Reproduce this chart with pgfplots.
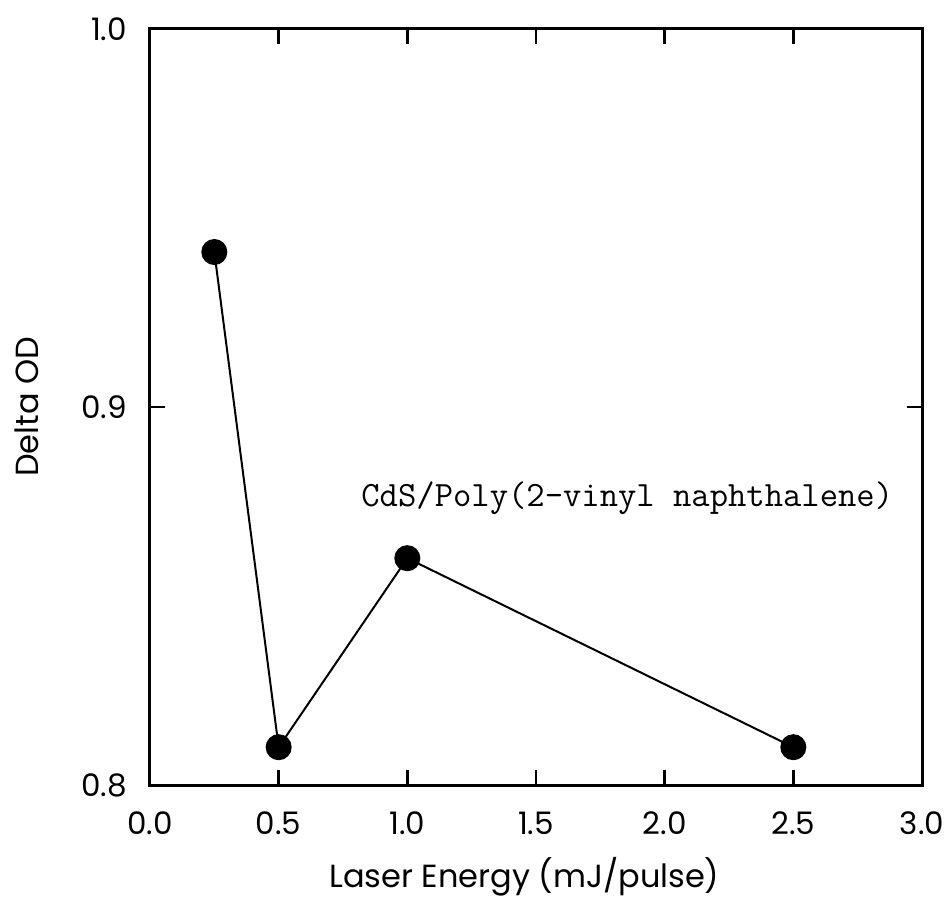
\documentclass[border=0pt]{standalone}
\usepackage{pgfplots}
\pgfplotsset{compat=1.18}
\usepackage{fontspec}
\setmainfont{Poppins}
\begin{document}
\begin{tikzpicture}
\useasboundingbox (-75pt,-59.5pt) rectangle (398.5pt,392.5pt);
\begin{axis}[
  at={(0,0)}, anchor=south west,
  scale only axis, width=386pt, height=378pt,
  xmin=0, xmax=3, ymin=0.8, ymax=1.0,
  xtick={0,0.5,...,3}, ytick={0.8,0.9,1.0},
  xticklabels={0.0,0.5,1.0,1.5,2.0,2.5,3.0},
  yticklabels={0.8,0.9,1.0},
  tick align=inside, major tick length=7.5pt,
  tick style={line width=1.3pt, black},
  axis line style={line width=1.5pt},
  ticklabel style={font=\fontsize{15.5}{18}\selectfont},
  /pgf/number format/assume math mode=true,
  xticklabel style={yshift=-10pt},
  yticklabel style={xshift=-8pt},
  xlabel={Laser Energy (mJ/pulse)},
  ylabel={Delta OD},
  label style={font=\fontsize{16}{19}\selectfont},
  xlabel style={at={(axis description cs:0.485,-0.122)}, anchor=center},
  ylabel style={at={(axis description cs:-0.159,0.5)}, anchor=center},
  clip=false,
]
\addplot[black, line width=1pt, mark=*, mark size=6pt] coordinates {
  (0.25,0.941) (0.5,0.810) (1.0,0.860) (2.5,0.810)
};
\node[anchor=west, inner sep=0pt, font=\ttfamily\fontsize{17.8}{20}\selectfont] at (axis cs:0.82,0.876) {CdS/Poly(2-vinyl naphthalene)};
\end{axis}
\end{tikzpicture}
\end{document}
